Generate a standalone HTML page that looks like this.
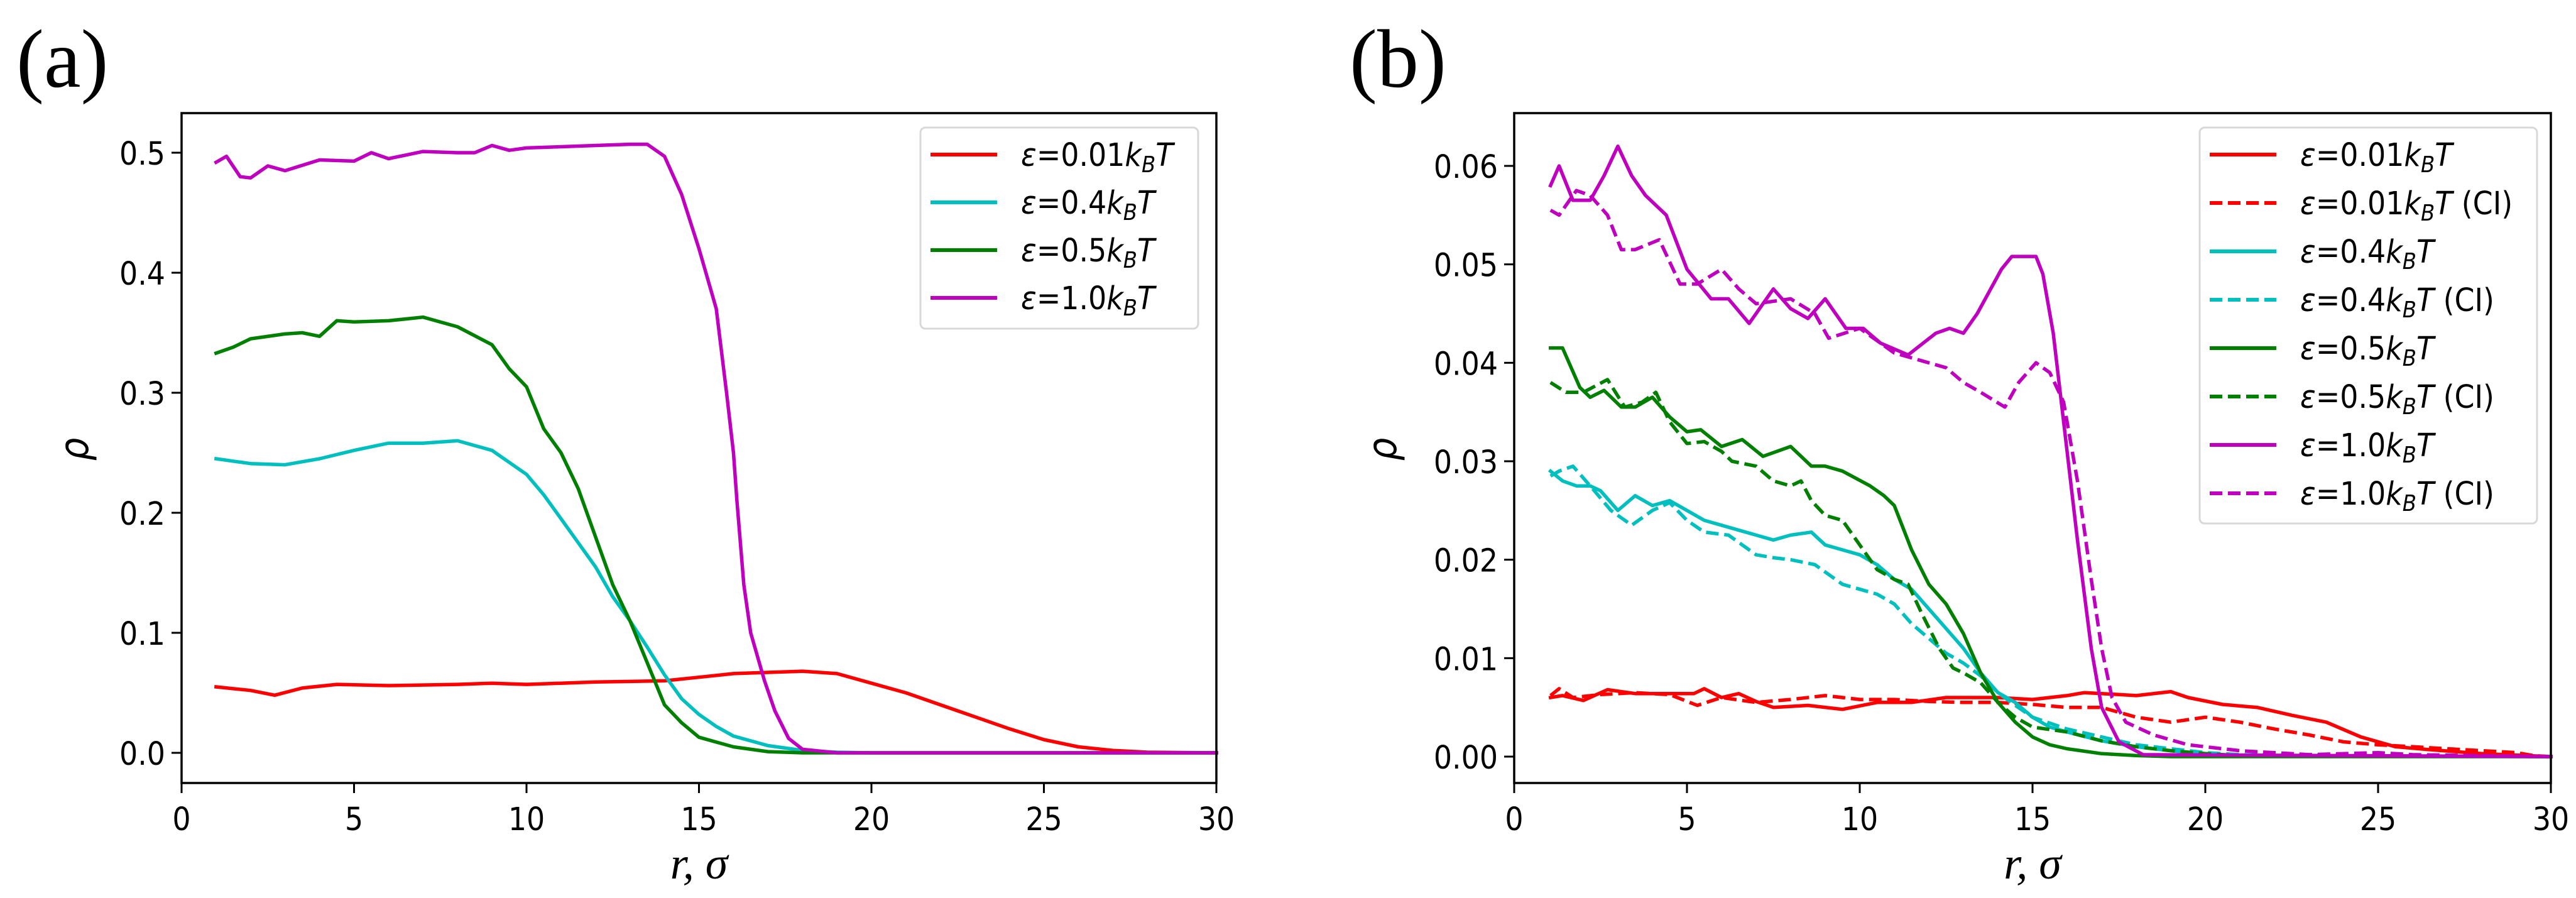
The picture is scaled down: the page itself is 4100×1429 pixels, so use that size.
<!DOCTYPE html>
<html><head><meta charset="utf-8">
<style>
html,body{margin:0;padding:0;background:#fff;}
svg{display:block;}
text{font-family:"DejaVu Sans Condensed","DejaVu Sans","Liberation Sans",sans-serif;}
</style></head>
<body>
<svg id="fig" width="4100" height="1429" viewBox="0 0 4100 1429" xmlns="http://www.w3.org/2000/svg"></svg>
<script>
// ---- Panel (a) data ----
const aRedX=[1,2,2.7,3.5,4.5,6,8,9,10,12,14,15,16,17,18,19,20,21,22,23,24,25,26,27,28,30];
const aRedY=[0.055,0.052,0.048,0.054,0.057,0.056,0.057,0.058,0.057,0.059,0.06,0.063,0.066,0.067,0.068,0.066,0.058,0.05,0.04,0.03,0.02,0.011,0.005,0.002,0.0005,0];
const aCyanX=[1,2,3,4,5,6,7,8,9,10,10.5,11,11.5,12,12.5,13,13.5,14,14.5,15,15.5,16,17,18,19,20,30];
const aCyanY=[0.245,0.241,0.240,0.245,0.252,0.258,0.258,0.26,0.252,0.232,0.215,0.195,0.175,0.155,0.13,0.11,0.088,0.065,0.045,0.032,0.022,0.014,0.006,0.002,0.0005,0,0];
const aGreenX=[1,1.5,2,3,3.5,4,4.5,5,6,7,8,9,9.5,10,10.5,11,11.5,12,12.5,13,13.5,14,14.5,15,16,17,18,30];
const aGreenY=[0.333,0.338,0.345,0.349,0.35,0.347,0.36,0.359,0.36,0.363,0.355,0.34,0.32,0.305,0.27,0.25,0.22,0.18,0.14,0.11,0.075,0.04,0.025,0.013,0.005,0.001,0,0];
const aMagX=[1,1.3,1.7,2,2.5,3,4,5,5.5,6,7,8,8.5,9,9.5,10,11,12,13,13.5,14,14.5,15,15.5,15.8,16,16.1,16.3,16.5,16.9,17.2,17.6,18,19,30];
const aMagY=[0.492,0.497,0.48,0.479,0.489,0.485,0.494,0.493,0.5,0.495,0.501,0.5,0.5,0.506,0.502,0.504,0.505,0.506,0.507,0.507,0.497,0.465,0.42,0.37,0.3,0.25,0.21,0.14,0.1,0.06,0.035,0.012,0.003,0,0];
const aTicksY=[0,0.1,0.2,0.3,0.4,0.5];
const aTickLabelsY=["0.0","0.1","0.2","0.3","0.4","0.5"];
const xTicks=[0,5,10,15,20,25,30];
const xTickLabels=["0","5","10","15","20","25","30"];
const aLegend=["0.01","0.4","0.5","1.0"];

// ---- Panel (b) data ----
const bMagX=[1.05,1.3,1.7,2.2,2.6,3.0,3.4,3.8,4.4,5.0,5.7,6.2,6.8,7.5,8.0,8.5,9.0,9.6,10.1,10.6,11.4,12.2,12.6,13,13.4,14.1,14.4,15.1,15.3,15.6,15.9,16.3,16.7,17.0,17.5,18.2,30];
const bMagY=[0.058,0.060,0.0565,0.0565,0.059,0.062,0.059,0.057,0.055,0.0495,0.0465,0.0465,0.044,0.0475,0.0455,0.0445,0.0465,0.0435,0.0435,0.042,0.0408,0.043,0.0435,0.043,0.045,0.0495,0.0508,0.0508,0.049,0.043,0.034,0.022,0.011,0.005,0.0015,0.0002,0];
const bMagCX=[1.05,1.3,1.8,2.2,2.7,3.1,3.5,4.2,4.8,5.3,6,6.5,7,8,8.7,9.1,10,11,11.5,12.5,13,13.5,14.2,14.6,15.1,15.5,15.9,16.3,16.7,17,17.3,17.7,18.5,19.5,21,23,25,26,30];
const bMagCY=[0.0555,0.055,0.0575,0.057,0.055,0.0515,0.0515,0.0525,0.048,0.048,0.0495,0.0475,0.046,0.0465,0.045,0.0425,0.0435,0.041,0.0405,0.0395,0.038,0.037,0.0355,0.038,0.040,0.039,0.036,0.028,0.018,0.011,0.006,0.0035,0.0022,0.0012,0.0006,0.0002,0.0004,0.0002,0];
const bGreenX=[1.05,1.4,1.9,2.2,2.6,3.1,3.5,4.0,4.5,5,5.4,6,6.6,7.2,8,8.6,9,9.5,10.3,10.7,11,11.5,12,12.5,13,13.5,14,14.5,15,15.5,16,17,18,19,30];
const bGreenY=[0.0415,0.0415,0.0375,0.0365,0.0372,0.0355,0.0355,0.0365,0.0345,0.033,0.0332,0.0315,0.0322,0.0305,0.0315,0.0295,0.0295,0.029,0.0275,0.0265,0.0255,0.021,0.0175,0.0155,0.0125,0.0085,0.0055,0.0035,0.002,0.0012,0.0008,0.0003,0.0001,0,0];
const bGreenCX=[1.05,1.5,2,2.7,3.2,3.7,4.1,4.5,5,5.5,6,6.3,7,7.5,8,8.3,8.6,9,9.5,10,10.5,11,11.4,11.8,12.3,12.7,13,13.5,14,14.5,15,16,17,18,19,20,21,30];
const bGreenCY=[0.038,0.037,0.037,0.0383,0.0355,0.036,0.037,0.034,0.0318,0.032,0.031,0.030,0.0295,0.028,0.0275,0.028,0.026,0.0245,0.024,0.0215,0.019,0.018,0.0175,0.0145,0.011,0.009,0.0085,0.0075,0.0055,0.004,0.003,0.0025,0.0016,0.001,0.0006,0.0003,0.0001,0];
const bCyanX=[1.05,1.4,1.8,2.2,2.5,3,3.5,4,4.5,5,5.5,6,6.5,7,7.5,8,8.6,9,9.5,10,10.5,11,11.5,12,12.5,13,13.5,14,14.5,15,15.5,16,17,18,19,20,21,30];
const bCyanY=[0.029,0.028,0.0275,0.0275,0.027,0.025,0.0265,0.0255,0.026,0.025,0.024,0.0235,0.023,0.0225,0.022,0.0225,0.0228,0.0215,0.021,0.0205,0.0195,0.018,0.017,0.015,0.013,0.011,0.0085,0.0065,0.0055,0.004,0.003,0.0025,0.0016,0.001,0.0006,0.0003,0.0001,0];
const bCyanCX=[1.05,1.3,1.7,2.2,2.8,3.4,4,4.5,5,5.5,6.2,7,7.5,8,8.7,9.5,10.5,11,11.5,12,12.5,13,13.5,14,14.5,15,16,17,18,19,20,21,30];
const bCyanCY=[0.0285,0.029,0.0295,0.0275,0.025,0.0235,0.025,0.0258,0.024,0.0228,0.0225,0.0205,0.0202,0.020,0.0195,0.0175,0.0165,0.0155,0.0135,0.012,0.0105,0.0095,0.0082,0.0065,0.0052,0.004,0.0028,0.002,0.0012,0.0008,0.0004,0.0002,0];
const bRedX=[1.05,1.4,2,2.7,3.5,4.5,5.2,5.5,6,6.5,7,7.5,8.5,9.5,10.5,11.5,12.5,14,15,16,16.5,17.5,18,19,19.5,20.5,21.5,22.5,23.5,24.5,25.5,26.5,28,30];
const bRedY=[0.006,0.0062,0.0057,0.0068,0.0064,0.0064,0.0064,0.0069,0.006,0.0064,0.0056,0.005,0.0052,0.0048,0.0055,0.0055,0.006,0.006,0.0058,0.0062,0.0065,0.0063,0.0062,0.0066,0.006,0.0053,0.005,0.0042,0.0035,0.002,0.001,0.0007,0.0003,0];
const bRedCX=[1.05,1.3,1.7,2.5,3.5,4.5,5.3,6,7,8,9,10,11,12,13,14,15,16,17,17.5,18,19,20,21,22,23,24,25,26,27,28,29,29.5,30];
const bRedCY=[0.0062,0.0069,0.006,0.0063,0.0065,0.0063,0.0052,0.006,0.0055,0.0058,0.0062,0.0058,0.0058,0.0056,0.0055,0.0055,0.0053,0.005,0.005,0.0045,0.004,0.0035,0.004,0.0035,0.0028,0.0022,0.0015,0.0012,0.001,0.0008,0.0006,0.0004,0.0001,0];
const bTicksY=[0,0.01,0.02,0.03,0.04,0.05,0.06];
const bTickLabelsY=["0.00","0.01","0.02","0.03","0.04","0.05","0.06"];
const bLegend=["0.01","0.01","0.4","0.4","0.5","0.5","1.0","1.0"];

const NS="http://www.w3.org/2000/svg";
const svg=document.getElementById('fig');
function el(tag,attrs,parent){const e=document.createElementNS(NS,tag);for(const k in attrs)e.setAttribute(k,attrs[k]);(parent||svg).appendChild(e);return e;}

function panel(cfg){
  const g=el('g',{});
  
  
  const L=cfg.left,R=cfg.right,T=180,B=1246;
  const xs=v=>L+(v-0)/(30-0)*(R-L);
  const ys=v=>cfg.y0px-(v/cfg.ymax)*(cfg.y0px-cfg.ymaxpx);
  cfg.series.forEach(s=>{
    const pts=s.x.map((xv,i)=>xs(xv).toFixed(1)+','+ys(s.y[i]).toFixed(1)).join(' ');
    const p=el('polyline',{points:pts,fill:'none',stroke:s.color,'stroke-width':5.5,'stroke-linejoin':'round','stroke-linecap':s.dash?'butt':'square'},g);
    if(s.dash)p.setAttribute('stroke-dasharray','20,9');
    
    
  });
  const fr=el('rect',{x:L,y:T,width:R-L,height:B-T,fill:'none',stroke:'#000','stroke-width':3.5},g);
  
  
  xTicks.forEach((t,i)=>{
    el('line',{x1:xs(t),x2:xs(t),y1:B,y2:B+16,stroke:'#000','stroke-width':3},g);
    const tx=el('text',{x:xs(t),y:1321,'font-size':51,'text-anchor':'middle'},g);
    tx.textContent=xTickLabels[i];
    
    
  });
  cfg.yticks.forEach((t,i)=>{
    el('line',{x1:L-16,x2:L,y1:ys(t),y2:ys(t),stroke:'#000','stroke-width':3},g);
    const tx=el('text',{x:L-26,y:ys(t)+19,'font-size':51,'text-anchor':'end'},g);
    tx.textContent=cfg.ylabels[i];
    
    
  });
  const xl=el('text',{x:(L+R)/2,y:1398,'font-size':72,'text-anchor':'middle','font-style':'italic',style:'font-family:"Liberation Serif",serif'},g);
  xl.textContent='r, σ';
  
  
  const yl=el('text',{x:0,y:0,'font-size':64,'text-anchor':'middle','font-style':'italic',transform:`translate(${cfg.ylabx},715) rotate(-90)`},g);
  yl.textContent='ρ';
  
  
  const pl=el('text',{x:cfg.letterx,y:138,'font-size':132,style:'font-family:"Liberation Serif",serif'},g);
  pl.textContent=cfg.letter;
  
  
  const lg=el('g',{},g);
  
  
  el('rect',{x:cfg.legx,y:203,width:cfg.legw,height:cfg.legh,rx:8,fill:'#fff',stroke:'#d8d8d8','stroke-width':3},lg);
  cfg.series.forEach((s,i)=>{
    const yy=246+i*cfg.legstep;
    const ln=el('line',{x1:cfg.legx+16,x2:cfg.legx+122,y1:yy,y2:yy,stroke:s.color,'stroke-width':6},lg);
    if(s.dash)ln.setAttribute('stroke-dasharray','20,9');
    const t=el('text',{x:cfg.legx+160,y:yy+18,'font-size':51},lg);
    t.innerHTML=`<tspan font-style="italic">ε</tspan>=${cfg.legend[i]}<tspan font-style="italic">k</tspan><tspan font-style="italic" font-size="36" dy="10">B</tspan><tspan font-style="italic" dy="-10">T</tspan>${s.dash?' (CI)':''}`;
    
    
  });
}

panel({name:'panel-a',left:289,right:1936,y0px:1198,ymaxpx:243,ymax:0.5,yticks:aTicksY,ylabels:aTickLabelsY,ylabx:140,letter:'(a)',letterx:26,
  legx:1465,legw:442,legh:320,legstep:76,legend:aLegend,
  series:[
    {name:'line-eps-0.01',x:aRedX,y:aRedY,color:'#ff0000'},
    {name:'line-eps-0.4',x:aCyanX,y:aCyanY,color:'#00bfbf'},
    {name:'line-eps-0.5',x:aGreenX,y:aGreenY,color:'#008000'},
    {name:'line-eps-1.0',x:aMagX,y:aMagY,color:'#bf00bf'}]});

panel({name:'panel-b',left:2410,right:4060,y0px:1204,ymaxpx:264,ymax:0.06,yticks:bTicksY,ylabels:bTickLabelsY,ylabx:2222,letter:'(b)',letterx:2148,
  legx:3501,legw:537,legh:630,legstep:77,legend:bLegend,
  series:[
    {name:'line-eps-0.01',x:bRedX,y:bRedY,color:'#ff0000'},
    {name:'line-eps-0.01-ci',x:bRedCX,y:bRedCY,color:'#ff0000',dash:true},
    {name:'line-eps-0.4',x:bCyanX,y:bCyanY,color:'#00bfbf'},
    {name:'line-eps-0.4-ci',x:bCyanCX,y:bCyanCY,color:'#00bfbf',dash:true},
    {name:'line-eps-0.5',x:bGreenX,y:bGreenY,color:'#008000'},
    {name:'line-eps-0.5-ci',x:bGreenCX,y:bGreenCY,color:'#008000',dash:true},
    {name:'line-eps-1.0',x:bMagX,y:bMagY,color:'#bf00bf'},
    {name:'line-eps-1.0-ci',x:bMagCX,y:bMagCY,color:'#bf00bf',dash:true}]});
</script>
</body></html>
